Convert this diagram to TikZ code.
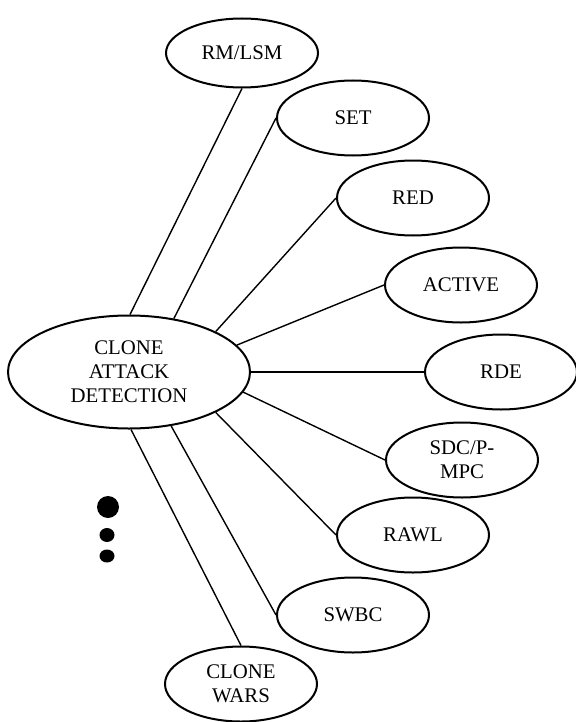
\documentclass[tikz,border=0pt]{standalone}
\usepackage{fontspec}
\setmainfont{Liberation Serif}
\usetikzlibrary{shapes.geometric}
\tikzset{
  leaf/.style={ellipse, draw, line width=1pt, inner sep=0pt,
    minimum width=76pt, minimum height=37.5pt, align=center,
    font=\fontsize{10.4}{12}\selectfont},
  hub/.style={leaf, minimum width=121pt, minimum height=56.5pt},
  link/.style={line width=0.7pt},
  dot/.style={fill=black, draw=none}
}
\begin{document}
\begin{tikzpicture}[x=0.5pt, y=-0.5pt]
\useasboundingbox (0,0) rectangle (576,722);
% central method node
\node[hub] (c) at (129,372) {CLONE\\ATTACK\\DETECTION};
% detection schemes
\node[leaf, minimum height=34.5pt] (rm) at (242,53) {RM/LSM};
\node[leaf] (set)  at (353,118) {SET};
\node[leaf] (red)  at (413,198) {RED};
\node[leaf] (act)  at (461,285) {ACTIVE};
\node[leaf] (rde)  at (501,372) {RDE};
\node[leaf] (sdc)  at (462,460) {SDC/P-\\MPC};
\node[leaf] (rawl) at (413,535) {RAWL};
\node[leaf] (swbc) at (353,615) {SWBC};
\node[leaf] (cw)   at (241,684) {CLONE\\WARS};
% connectors
\draw[link] (c.89)  -- (rm.south);
\draw[link] (c.50)  -- (set.west);
\draw[link] (c.25)  -- (red.west);
\draw[link] (c.14)  -- (act.west);
\draw[link] (c.0)   -- (rde.west);
\draw[link] (c.-10) -- (sdc.west);
\draw[link] (c.-25) -- (rawl.west);
\draw[link] (c.-52) -- (swbc.west);
\draw[link] (c.-88) -- (cw.north);
% ellipsis dots
\fill[dot] (108,507) circle [radius=11];
\fill[dot] (107,535) ellipse [x radius=7.5, y radius=7];
\fill[dot] (107,556) ellipse [x radius=7.5, y radius=6.5];
\end{tikzpicture}
\end{document}
